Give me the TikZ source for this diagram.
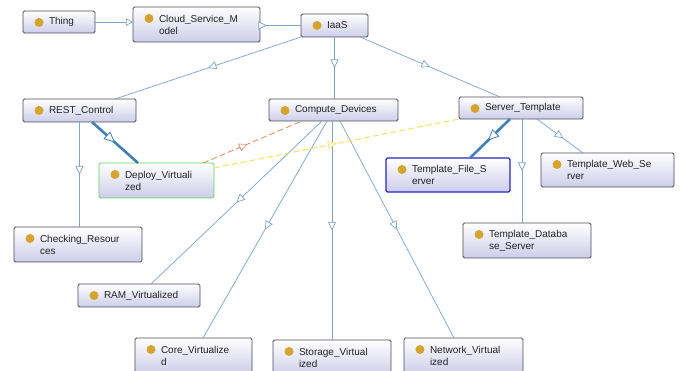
\documentclass[tikz,border=0pt]{standalone}
\usepackage{fontspec}
\setmainfont{Liberation Sans}
\usetikzlibrary{arrows.meta,decorations.markings}
\definecolor{edgeblue}{HTML}{7FA4C2}
\definecolor{thickblue}{HTML}{4080B6}
\definecolor{boxlav}{HTML}{CDCDEA}
\definecolor{boxline}{HTML}{4A4A58}
\definecolor{dotgold}{HTML}{D4A52C}
\definecolor{dashorange}{HTML}{D9956A}
\definecolor{dashyellow}{HTML}{F0E25A}
\definecolor{deploygreen}{HTML}{5FD35F}
\definecolor{fileblue}{HTML}{2424C8}
\definecolor{labeltext}{HTML}{222222}

\begin{document}
\begin{tikzpicture}[
  x=1pt, y=-1pt,
  cls/.style={draw=boxline, line width=0.8pt, rounded corners=1.5pt,
    top color=white, bottom color=boxlav, anchor=north west, outer sep=0pt,
    inner xsep=5pt, inner ysep=0pt, align=left, text=labeltext,
    font=\fontsize{10}{12}\selectfont,
    execute at begin node={\leftskip=21pt},
    path picture={\fill[dotgold] ([shift={(16pt,-11.5pt)}]path picture bounding box.north west) circle (4.5pt);}},
  isa/.style={draw=edgeblue, line width=0.7pt, postaction=decorate,
    decoration={markings, mark=at position #1 with
      {\arrow{Triangle[length=8.5pt,width=8pt,fill=white,line width=0.7pt]}}}},
  isa/.default=0.5,
  isathick/.style={draw=thickblue, line width=2.6pt, postaction=decorate,
    decoration={markings, mark=at position #1 with
      {\arrow{Triangle[length=11pt,width=10pt,fill=white,line width=0.8pt]}}}},
  isathick/.default=0.5,
  link/.style={isa=#1, dash pattern=on 6pt off 3pt, line width=0.9pt},
  link/.default=0.5
]
  \useasboundingbox (0,0) rectangle (681,371);
  \clip (0,0) rectangle (681,371);
  \fill[white] (0,0) rectangle (681,371);

  % classes
  \node[cls, text width=62pt, minimum height=22pt] (thing) at (23,11) {Thing};
  \node[cls, text width=117pt, minimum height=35pt] (cloud) at (133,7) {Cloud\_Service\_M\\odel};
  \node[cls, text width=57pt, minimum height=23pt] (iaas) at (301,14) {IaaS};
  \node[cls, text width=103pt, minimum height=23pt] (rest) at (23,99) {REST\_Control};
  \node[cls, text width=119pt, minimum height=22pt] (compute) at (269,99) {Compute\_Devices};
  \node[cls, text width=114pt, minimum height=22pt] (server) at (459,97) {Server\_Template};
  \node[cls, draw=deploygreen, text width=105pt, minimum height=35pt] (deploy) at (99,163) {Deploy\_Virtuali\\zed};
  \node[cls, draw=fileblue, line width=1.3pt, text width=114pt, minimum height=34pt] (tfile) at (386,158) {Template\_File\_S\\erver};
  \node[cls, text width=123pt, minimum height=34pt] (tweb) at (541,153) {Template\_Web\_Se\\rver};
  \node[cls, text width=118pt, minimum height=35pt] (checking) at (14,227) {Checking\_Resour\\ces};
  \node[cls, text width=118pt, minimum height=35pt] (tdb) at (463,223) {Template\_Databa\\se\_Server};
  \node[cls, text width=112pt, minimum height=23pt] (ram) at (78,284) {RAM\_Virtualized};
  \node[cls, text width=107pt, minimum height=36pt] (core) at (135,338) {Core\_Virtualize\\d};
  \node[cls, text width=108pt, minimum height=36pt] (storage) at (273,340) {Storage\_Virtual\\ized};
  \node[cls, text width=109pt, minimum height=36pt] (network) at (404,338) {Network\_Virtual\\ized};

  % subclass edges
  \draw[edgeblue, line width=0.7pt, -{Triangle[length=7pt,width=7.5pt,fill=white]}]
    (thing.east) -- (cloud.west |- thing.east);
  \draw[isa=0.17] (cloud.east |- iaas.west) -- (iaas.west);
  \draw[isa] (iaas.south west) -- ([xshift=-21pt]rest.north east);
  \draw[isa] (iaas.south) -- (iaas.south |- compute.north);
  \draw[isa] ([xshift=-8pt]iaas.south east) -- ([xshift=-21pt]server.north);
  \draw[isathick] ([xshift=12.5pt]rest.south) -- ([xshift=39pt]deploy.north west);
  \draw[isa] (rest.south) -- (rest.south |- checking.north);
  \draw[isa] ([xshift=-11.5pt]compute.south) -- ([xshift=73pt]ram.north west);
  \draw[isa] ([xshift=-6.5pt]compute.south) -- ([xshift=68pt]core.north west);
  \draw[isa] ([xshift=-1.5pt]compute.south) -- ([xshift=-1.5pt]compute.south |- storage.north);
  \draw[isa] ([xshift=6.5pt]compute.south) -- ([xshift=50pt]network.north west);
  \draw[isathick=0.55] ([xshift=-11pt]server.south) -- ([xshift=-40pt]tfile.north east);
  \draw[isa] ([xshift=1pt]server.south) -- ([xshift=1pt]server.south |- tdb.north);
  \draw[isa=0.57] ([xshift=16pt]server.south) -- ([xshift=42pt]tweb.north west);

  % other links
  \draw[link=0.45, draw=dashorange] ([xshift=-11pt]deploy.north east) -- ([xshift=-31.5pt]compute.south);
  \draw[link, draw=dashyellow] ([yshift=-5pt]deploy.north east) -- (server.south west);
\end{tikzpicture}
\end{document}
